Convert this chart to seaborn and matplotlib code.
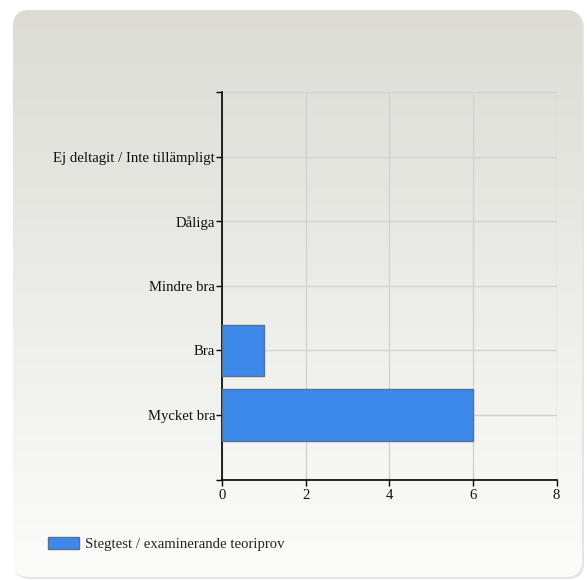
import numpy as np
import matplotlib
matplotlib.use("Agg")
import matplotlib.pyplot as plt
from matplotlib.patches import FancyBboxPatch, Patch
import seaborn as sns

categories = ["Ej deltagit / Inte tillämpligt", "Dåliga", "Mindre bra", "Bra", "Mycket bra"]
values = [0, 0, 0, 1, 6]
series_name = "Stegtest / examinerande teoriprov"
x_ticks = [0, 2, 4, 6, 8]

sns.set_theme(style="white")
plt.rcParams['font.family'] = ['Liberation Serif', 'DejaVu Serif']
FS = 10.6

W, H = 587, 580
fig = plt.figure(figsize=(W / 100, H / 100), dpi=100, facecolor="white")

# background card with gradient and soft shadow
bg = fig.add_axes([0, 0, 1, 1])
bg.set_xlim(0, W)
bg.set_ylim(H, 0)
bg.axis("off")
shadow = FancyBboxPatch((14, 12), 570, 567, boxstyle="round,pad=0,rounding_size=16",
                        facecolor="#e4e4e4", edgecolor="none", transform=bg.transData, zorder=0)
bg.add_patch(shadow)
card = FancyBboxPatch((13, 10), 569, 567, boxstyle="round,pad=0,rounding_size=16",
                      facecolor="none", edgecolor="none", transform=bg.transData)
bg.add_patch(card)
grad = np.linspace(0, 1, 256).reshape(-1, 1)
top = np.array([0xdc, 0xdc, 0xd5]) / 255
bot = np.array([0xfc, 0xfc, 0xfb]) / 255
img = top + (bot - top) * grad[..., None]
im = bg.imshow(img.repeat(2, axis=1), extent=(13, 582, 577, 10), aspect="auto", zorder=1)
im.set_clip_path(card)

l, r, t, b = 222, 556.5, 92, 479.5
ax = fig.add_axes([l / W, 1 - b / H, (r - l) / W, (b - t) / H])
ax.set_facecolor("none")

sns.barplot(x=values, y=categories, orient="h", color="#3d89ea", saturation=1,
            edgecolor="#5b7190", linewidth=1, width=0.8, ax=ax, zorder=3)
for p in ax.patches:
    if p.get_width() == 0:
        p.set_visible(False)

ax.set_xlim(0, 8)
ax.set_ylim(5, -1)
ax.set_xticks(x_ticks)
ax.set_xticklabels([str(v) for v in x_ticks], fontsize=FS)
ax.set_yticks([-1, 0, 1, 2, 3, 4, 5])
ax.set_yticklabels([""] + categories + [""], fontsize=FS)
ax.set_xlabel("")
ax.set_ylabel("")
ax.grid(True, color="#d2d2d2", linewidth=1, zorder=0)
ax.set_axisbelow(True)
for s in ["top", "right"]:
    ax.spines[s].set_visible(False)
for s in ["left", "bottom"]:
    ax.spines[s].set_color("black")
    ax.spines[s].set_linewidth(1.2)
ax.tick_params(axis="y", which="major", direction="out", length=4, width=1,
               color="black", pad=1, labelcolor="#111111", left=True)
ax.tick_params(axis="x", which="major", direction="out", length=4, width=1,
               color="black", pad=3, labelcolor="#111111", bottom=True)

handle = Patch(facecolor="#3d89ea", edgecolor="#5b7190", linewidth=1)
fig.legend(handles=[handle], labels=[series_name], loc="center left",
           bbox_to_anchor=(48 / W, 1 - 544 / H), frameon=False, fontsize=FS,
           borderpad=0, borderaxespad=0, handlelength=2.1, handleheight=0.9,
           handletextpad=0.4)

fig.savefig("out.png", dpi=100, facecolor="white")
